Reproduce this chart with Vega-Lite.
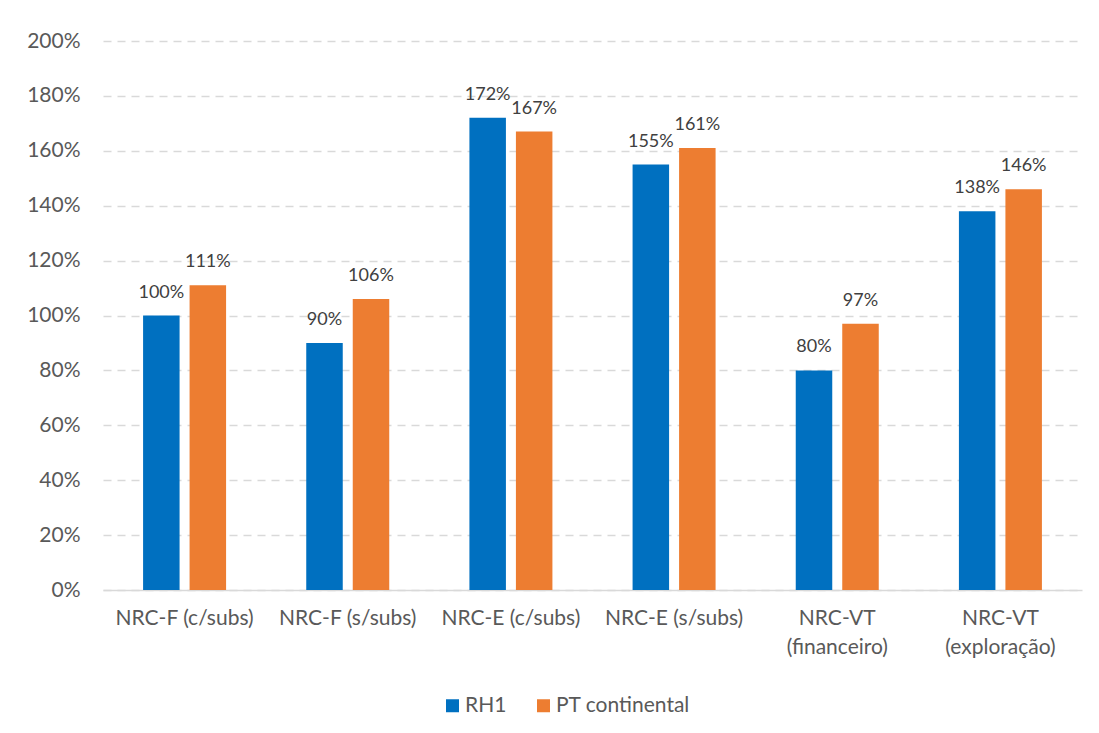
{
  "$schema": "https://vega.github.io/schema/vega-lite/v6.json",
  "autosize": {"type": "none"},
  "width": 979,
  "height": 549,
  "padding": {"left": 103, "top": 41, "right": 17, "bottom": 143},
  "background": "white",
  "data": {
    "values": [
      {"category": "NRC-F (c/subs)", "series": "RH1", "value": 1.00},
      {"category": "NRC-F (c/subs)", "series": "PT continental", "value": 1.11},
      {"category": "NRC-F (s/subs)", "series": "RH1", "value": 0.90},
      {"category": "NRC-F (s/subs)", "series": "PT continental", "value": 1.06},
      {"category": "NRC-E (c/subs)", "series": "RH1", "value": 1.72},
      {"category": "NRC-E (c/subs)", "series": "PT continental", "value": 1.67},
      {"category": "NRC-E (s/subs)", "series": "RH1", "value": 1.55},
      {"category": "NRC-E (s/subs)", "series": "PT continental", "value": 1.61},
      {"category": "NRC-VT (financeiro)", "series": "RH1", "value": 0.80},
      {"category": "NRC-VT (financeiro)", "series": "PT continental", "value": 0.97},
      {"category": "NRC-VT (exploração)", "series": "RH1", "value": 1.38},
      {"category": "NRC-VT (exploração)", "series": "PT continental", "value": 1.46}
    ]
  },
  "encoding": {
    "x": {
      "field": "category",
      "type": "nominal",
      "sort": null,
      "scale": {"paddingInner": 0, "paddingOuter": 0},
      "axis": {
        "title": null,
        "labelAngle": 0,
        "ticks": false,
        "domainColor": "#d9d9d9",
        "domainWidth": 1.5,
        "labelColor": "#595959",
        "labelFont": "Lato",
        "labelFontSize": 21,
        "labelPadding": 17,
        "labelLineHeight": 29,
        "labelBaseline": "top",
        "labelExpr": "indexof(datum.label, 'VT') >= 0 ? split(datum.label, ' ') : datum.label"
      }
    },
    "xOffset": {
      "field": "series",
      "type": "nominal",
      "sort": ["RH1", "PT continental"],
      "scale": {"paddingInner": 0.215, "paddingOuter": 0.862}
    },
    "y": {
      "field": "value",
      "type": "quantitative",
      "scale": {"domain": [0, 2], "nice": false},
      "axis": {
        "title": null,
        "values": [0, 0.2, 0.4, 0.6, 0.8, 1.0, 1.2, 1.4, 1.6, 1.8, 2.0],
        "format": ".0%",
        "domain": false,
        "ticks": false,
        "labelColor": "#595959",
        "labelFont": "Lato",
        "labelFontSize": 21,
        "labelPadding": 23,
        "gridColor": "#d9d9d9",
        "gridDash": [8, 6],
        "gridWidth": 1.5
      }
    }
  },
  "layer": [
    {
      "mark": {"type": "bar"},
      "encoding": {
        "color": {
          "field": "series",
          "type": "nominal",
          "sort": ["RH1", "PT continental"],
          "scale": {"domain": ["RH1", "PT continental"], "range": ["#0070C0", "#ED7D31"]},
          "legend": {
            "title": null,
            "orient": "none",
            "direction": "horizontal",
            "legendX": 339,
            "legendY": 654,
            "symbolType": "square",
            "symbolSize": 169,
            "symbolStrokeWidth": 0,
            "labelFont": "Lato",
            "labelFontSize": 21,
            "labelColor": "#595959",
            "labelOffset": 2,
            "columnPadding": 26,
            "padding": 0
          }
        }
      }
    },
    {
      "mark": {"type": "text", "baseline": "alphabetic", "dy": -18, "font": "Lato", "fontSize": 18, "color": "#404040"},
      "encoding": {
        "text": {"field": "value", "type": "quantitative", "format": ".0%"}
      }
    }
  ],
  "config": {"view": {"stroke": null}}
}
